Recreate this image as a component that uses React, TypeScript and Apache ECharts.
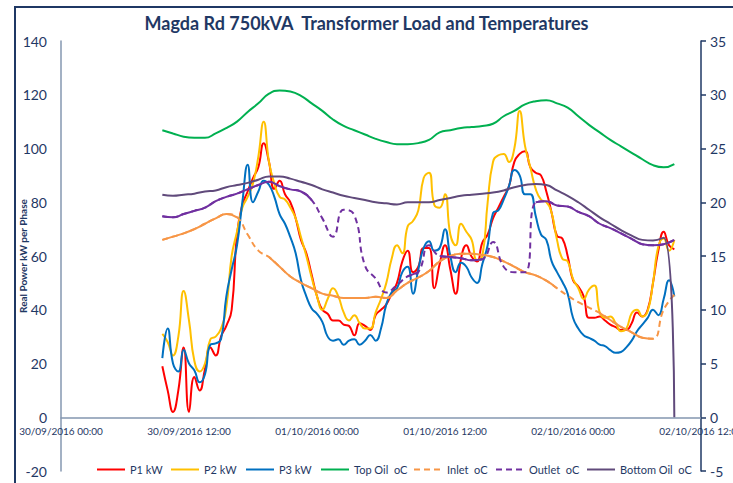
import React, { useEffect, useRef } from "react";
import * as echarts from "echarts";

// ---- data ----
const xTickLabels = [
  "30/09/2016 00:00",
  "30/09/2016 12:00",
  "01/10/2016 00:00",
  "01/10/2016 12:00",
  "02/10/2016 00:00",
  "02/10/2016 12:00",
];

// power readings: every 30 min from 30/09 09:30 (hours since 30/09 00:00)
const powerStartHour = 9.5;
const powerStepHours = 0.5;
// temperature readings: hourly from 30/09 09:30
const tempStartHour = 9.5;
const tempStepHours = 1;

const p1kW = [
  19, 10, 2, 10, 26, 2, 15, 10, 18, 26,
  23, 30, 34, 40, 68, 79, 84, 89, 93, 102,
  95, 85, 88, 83, 80, 74, 66, 61, 53, 45,
  40, 38.5, 36, 36, 34.5, 34, 30.5, 35, 34, 32.5,
  38, 40, 42, 46, 50, 58, 62, 54, 56, 63,
  63, 48, 57, 64, 55, 46, 59, 64, 59.7, 58,
  65, 68, 74, 78, 82, 86, 95, 98, 99, 93,
  91, 90, 84, 76, 67.5, 66.5, 60, 51, 48.6, 45,
  37, 37, 37.5, 36, 34.5, 33.5, 32.5, 32.5, 35, 39,
  37.5, 40, 50, 62, 69, 64, 62.5,
];

const p2kW = [
  31, 28, 23, 30, 47, 36, 21, 17, 20, 29,
  30, 33, 41, 60, 69, 78, 82, 87, 97, 110,
  95, 87, 82, 81, 78, 74, 67, 60, 52, 45,
  40, 44, 48, 45, 39, 36, 38, 35, 33, 33,
  39, 44, 50, 59, 64, 61, 71, 73, 77, 89,
  91, 79, 78, 83, 68, 64, 72, 69, 66, 58.5,
  60, 80, 95, 97.5, 98, 95, 100, 114, 101, 93,
  85, 81, 80, 76, 66, 59, 58, 51.5, 48, 44,
  47.5, 49, 39, 37, 37.5, 35, 32, 33, 38.7, 40,
  37.5, 39.5, 50, 63.5, 66.5, 62, 66,
];

const p3kW = [
  22, 33, 20, 17, 25, 20, 17.5, 13, 16, 27,
  27.5, 29, 45, 55, 64, 80, 94, 80, 84, 88,
  86.5, 82, 75.5, 72, 67, 61, 51, 45, 40.5, 38.5,
  35.5, 30, 28.5, 29, 27, 28.5, 29, 27, 28.5, 30.6,
  28.5, 33, 42, 46.5, 48, 54, 56, 46, 55, 63,
  65.5, 62, 63, 70, 60, 54, 57.5, 56, 52, 50,
  57, 64, 76, 77, 81, 86, 92, 90, 83, 83,
  75, 68, 66, 58, 54, 50.4, 46, 37, 33, 30.5,
  29.5, 28.5, 27, 26.5, 25, 24, 24.3, 26, 28.5, 32,
  34.5, 37, 40, 38, 44, 51, 45,
];

const topOilC = [
  26.7, 26.4, 26.1, 26.0, 26.0, 26.4, 26.9, 27.5, 28.4, 29.2,
  30.1, 30.4, 30.3, 29.9, 29.2, 28.5, 27.7, 27.1, 26.7, 26.3,
  25.9, 25.6, 25.4, 25.4, 25.5, 25.8, 26.5, 26.7, 26.9, 27.0,
  27.1, 27.3, 28.0, 28.5, 29.1, 29.4, 29.5, 29.2, 28.8, 28.0,
  27.2, 26.5, 25.8, 25.2, 24.6, 24.0, 23.45, 23.25, 23.55,
];

const inletC = [
  16.5, 16.8, 17.1, 17.5, 18.0, 18.5, 18.9, 18.6, 17.0, 15.5,
  14.9, 14.0, 13.1, 12.5, 12.0, 11.5, 11.3, 11.1, 11.1, 11.1,
  11.2, 11.1, 11.8, 12.5, 13.0, 13.6, 14.5, 15.0, 15.2, 15.2,
  15.1, 14.9, 14.5, 14.0, 13.5, 13.2, 12.7, 12.0, 11.3, 10.7,
  10.2, 9.7, 9.05, 8.4, 7.9, 7.4, 7.3, 10.0, 11.4,
];

const outletC = [
  18.7, 18.6, 18.9, 19.2, 19.5, 20.1, 20.5, 20.8, 21.2, 21.6,
  21.9, 21.5, 21.2, 21.0, 20.2, 18.5, 16.8, 19.3, 18.8, 14.1,
  12.9, 11.6, 12.3, 13.1, 13.5, 16.0, 15.0, 14.9, 14.8, 14.6,
  14.7, 16.3, 14.0, 13.5, 13.5, 20.0, 20.1, 19.7, 19.6, 19.1,
  18.7, 18.0, 17.6, 17.1, 16.6, 16.1, 16.0, 16.1, 16.5,
];

const bottomOilC = [
  20.7, 20.6, 20.7, 20.8, 21.0, 21.1, 21.4, 21.6, 21.8, 22.1,
  22.4, 22.4, 22.2, 21.9, 21.6, 21.2, 20.9, 20.6, 20.4, 20.2,
  20.0, 19.9, 19.8, 20.0, 20.0, 20.0, 20.2, 20.4, 20.6, 20.7,
  20.8, 20.9, 21.1, 21.4, 21.6, 21.7, 21.6, 21.1, 20.6, 20.0,
  19.3, 18.6, 18.0, 17.4, 16.9, 16.5, 16.45, 16.7, 0,
];

// index spans (temperature samples) where the dashed lines render as continuous strokes
const inletSolidSpans = [[0, 7], [10, 37], [41, 46]];
const outletSolidSpans = [[0, 14], [23, 24], [26, 30], [35, 40], [41, 48]];

const NAVY = "#1F3864";
const AXIS_GREY = "#8497B0";
const FONT = "Lato, 'Liberation Sans', sans-serif";

const powerPairs = (vals: number[]) =>
  vals.map((v, i) => [powerStartHour + i * powerStepHours, v]);
const tempPairs = (vals: number[]) =>
  vals.map((v, i) => [tempStartHour + i * tempStepHours, v]);
const maskSpans = (pairs: any[], spans: number[][]) =>
  pairs.map((p, i) =>
    spans.some(([a, b]) => i >= a && i <= b) ? p : [p[0], null]
  );

export default function App() {
  const ref = useRef<HTMLDivElement>(null);

  useEffect(() => {
    if (!ref.current) return;
    const chart = echarts.init(ref.current, null, { renderer: "svg" });

    const line = (
      name: string,
      data: any[],
      color: string,
      yAxisIndex: number,
      dashed = false,
      z = 2
    ) => ({
      name,
      type: "line",
      data,
      yAxisIndex,
      symbol: "none",
      smooth: 0.5,
      connectNulls: false,
      z,
      lineStyle: {
        color,
        width: 2,
        type: dashed ? [6, 4] : "solid",
        cap: "butt",
      },
      itemStyle: { color },
      emphasis: { disabled: true },
    });

    const inletPairs = tempPairs(inletC);
    const outletPairs = tempPairs(outletC);

    const legendItems: [string, number][] = [
      ["P1 kW", 91],
      ["P2 kW", 165],
      ["P3 kW", 240],
      ["Top Oil  oC", 315],
      ["Inlet  oC", 408],
      ["Outlet  oC", 490],
      ["Bottom Oil  oC", 581],
    ];

    const option: any = {
      animation: false,
      backgroundColor: "#ffffff",
      textStyle: { fontFamily: FONT },
      title: {
        text: "Magda Rd 750kVA  Transformer Load and Temperatures",
        left: "center",
        top: 9,
        textStyle: {
          fontFamily: FONT,
          fontSize: 18,
          fontWeight: "bold",
          color: NAVY,
        },
      },
      graphic: [
        {
          type: "rect",
          silent: true,
          shape: { x: 15, y: 7, width: 760, height: 520 },
          style: { fill: "none", stroke: NAVY, lineWidth: 2 },
        },
      ],
      legend: legendItems.map(([name, left]) => ({
        data: [name],
        left,
        top: 459,
        padding: 5,
        itemWidth: 28,
        itemHeight: 1,
        itemGap: 0,
        selectedMode: false,
        itemStyle: { opacity: 0 },
        textStyle: { fontFamily: FONT, fontSize: 11, color: NAVY },
      })),
      grid: {
        left: 61,
        right: 32,
        top: 41,
        bottom: 12,
        containLabel: false,
        outerBoundsMode: "none",
      },
      xAxis: {
        type: "value",
        min: 0,
        max: 60,
        interval: 12,
        axisLine: {
          onZero: true,
          onZeroAxisIndex: 0,
          lineStyle: { color: AXIS_GREY, width: 1.5 },
        },
        axisTick: { show: false },
        splitLine: { show: false },
        axisLabel: {
          formatter: (v: number) => xTickLabels[Math.round(v / 12)] ?? "",
          color: NAVY,
          fontSize: 10,
          fontFamily: FONT,
          margin: -45,
          showMinLabel: true,
          showMaxLabel: true,
        },
      },
      yAxis: [
        {
          type: "value",
          min: -20,
          max: 140,
          interval: 20,
          position: "left",
          axisLine: { show: true, onZero: false, lineStyle: { color: AXIS_GREY, width: 1.5 } },
          axisTick: { show: false },
          splitLine: { show: false },
          axisLabel: { color: NAVY, fontSize: 14, fontFamily: FONT, margin: 14 },
          name: "Real Power kW per Phase",
          nameLocation: "middle",
          nameGap: 33,
          nameMoveOverlap: false,
          nameTextStyle: {
            color: NAVY,
            fontSize: 10,
            fontWeight: "bold",
            fontFamily: FONT,
          },
        },
        {
          type: "value",
          min: -5,
          max: 35,
          interval: 5,
          position: "right",
          axisLine: { show: true, onZero: false, lineStyle: { color: NAVY, width: 1.5 } },
          axisTick: { show: true, inside: false, length: 5, lineStyle: { color: NAVY, width: 1.5 } },
          splitLine: { show: false },
          axisLabel: { color: NAVY, fontSize: 14, fontFamily: FONT, margin: 9 },
        },
      ],
      series: [
        line("P1 kW", powerPairs(p1kW), "#FF0000", 0),
        line("P2 kW", powerPairs(p2kW), "#FFC000", 0),
        line("P3 kW", powerPairs(p3kW), "#0070C0", 0),
        line("Top Oil  oC", tempPairs(topOilC), "#00B050", 1),
        line("Inlet  oC", inletPairs, "#F79646", 1, true),
        line("Inlet solid", maskSpans(inletPairs, inletSolidSpans), "#F79646", 1, false),
        line("Outlet  oC", outletPairs, "#7030A0", 1, true),
        line("Outlet solid", maskSpans(outletPairs, outletSolidSpans), "#7030A0", 1, false),
        line("Bottom Oil  oC", tempPairs(bottomOilC), "#604A7B", 1),
      ],
    };

    chart.setOption(option);
    return () => chart.dispose();
  }, []);

  return (
    <div
      ref={ref}
      style={{ position: "absolute", left: 0, top: 0, width: 733, height: 483 }}
    />
  );
}
